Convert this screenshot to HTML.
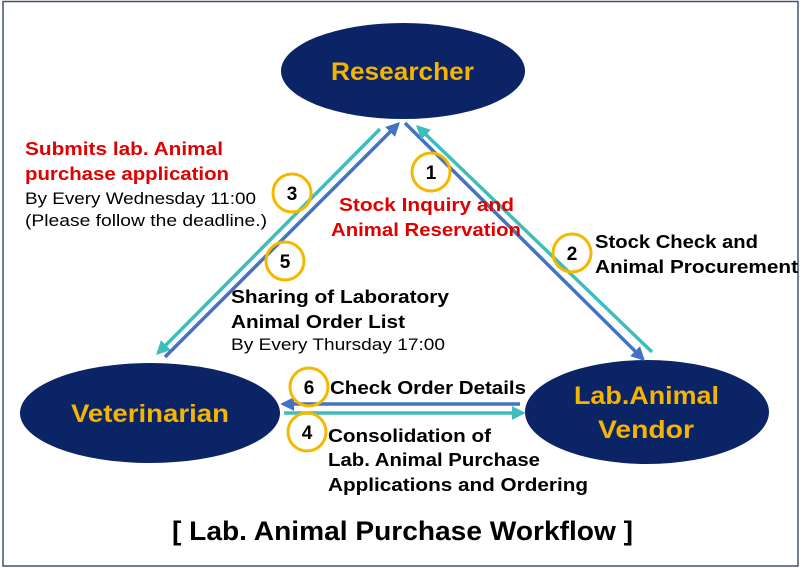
<!DOCTYPE html>
<html><head><meta charset="utf-8"><style>
html,body{margin:0;padding:0;background:#fff;}
svg{display:block;font-family:"Liberation Sans","Noto Sans CJK KR",sans-serif;}
</style></head><body>
<svg width="803" height="568" viewBox="0 0 803 568" xmlns="http://www.w3.org/2000/svg">
<defs>
<marker id="ab" viewBox="0 0 10 10" refX="8" refY="5" markerWidth="4" markerHeight="4" orient="auto"><path d="M0,0L10,5L0,10z" fill="#4472c4"/></marker>
<marker id="at" viewBox="0 0 10 10" refX="8" refY="5" markerWidth="4" markerHeight="4" orient="auto"><path d="M0,0L10,5L0,10z" fill="#3ebdbd"/></marker>
</defs>
<rect x="3" y="1.5" width="795" height="564.5" fill="#fff" stroke="#44546a" stroke-width="1.5"/>
<ellipse cx="403" cy="71" rx="122" ry="48" fill="#0b2466"/>
<ellipse cx="150" cy="413" rx="130" ry="50" fill="#0b2466"/>
<ellipse cx="647" cy="412" rx="122" ry="52" fill="#0b2466"/>
<g font-weight="bold" fill="#f5b400" font-size="25" lengthAdjust="spacingAndGlyphs">
<text x="331" y="80" textLength="143" lengthAdjust="spacingAndGlyphs">Researcher</text>
<text x="71" y="422" textLength="158" lengthAdjust="spacingAndGlyphs">Veterinarian</text>
<text x="574" y="404" textLength="145" lengthAdjust="spacingAndGlyphs">Lab.Animal</text>
<text x="598" y="438" textLength="96" lengthAdjust="spacingAndGlyphs">Vendor</text>
</g>
<g stroke-width="3.5" fill="none">
<line x1="380" y1="129" x2="158" y2="353" stroke="#3ebdbd" marker-end="url(#at)"/>
<line x1="165" y1="357" x2="398" y2="124" stroke="#4472c4" marker-end="url(#ab)"/>
<line x1="405" y1="123" x2="643" y2="359" stroke="#4472c4" marker-end="url(#ab)"/>
<line x1="652" y1="352" x2="418" y2="127" stroke="#3ebdbd" marker-end="url(#at)"/>
<line x1="520" y1="404" x2="283" y2="404" stroke="#4472c4" marker-end="url(#ab)"/>
<line x1="284" y1="413" x2="523" y2="413" stroke="#3ebdbd" marker-end="url(#at)"/>
</g>
<g fill="none" stroke="#f5b800" stroke-width="3">
<circle cx="431" cy="172" r="19"/><circle cx="572" cy="253" r="19"/>
<circle cx="292" cy="193" r="19"/><circle cx="285" cy="261" r="19"/>
<circle cx="309" cy="387" r="19"/><circle cx="307" cy="432" r="19"/>
</g>
<g font-weight="bold" font-size="19" text-anchor="middle" fill="#000">
<text x="431" y="179">1</text><text x="572" y="260">2</text>
<text x="292" y="200">3</text><text x="285" y="268">5</text>
<text x="309" y="394">6</text><text x="307" y="439">4</text>
</g>
<g font-weight="bold" font-size="18.5" fill="#e00000">
<text x="25" y="155" textLength="198" lengthAdjust="spacingAndGlyphs">Submits lab. Animal</text>
<text x="25" y="180" textLength="204" lengthAdjust="spacingAndGlyphs">purchase application</text>
<text x="339" y="211" textLength="175" lengthAdjust="spacingAndGlyphs">Stock Inquiry and</text>
<text x="331" y="236" textLength="190" lengthAdjust="spacingAndGlyphs">Animal Reservation</text>
</g>
<g font-size="16.5" fill="#000">
<text x="25" y="204" textLength="231" lengthAdjust="spacingAndGlyphs">By Every Wednesday 11:00</text>
<text x="25" y="226" textLength="242" lengthAdjust="spacingAndGlyphs">(Please follow the deadline.)</text>
<text x="231" y="350" textLength="214" lengthAdjust="spacingAndGlyphs">By Every Thursday 17:00</text>
</g>
<g font-weight="bold" font-size="18" fill="#000">
<text x="595" y="248" textLength="163" lengthAdjust="spacingAndGlyphs">Stock Check and</text>
<text x="595" y="273" textLength="203" lengthAdjust="spacingAndGlyphs">Animal Procurement</text>
<text x="231" y="303" textLength="218" lengthAdjust="spacingAndGlyphs">Sharing of Laboratory</text>
<text x="231" y="328" textLength="174" lengthAdjust="spacingAndGlyphs">Animal Order List</text>
<text x="330" y="394" textLength="196" lengthAdjust="spacingAndGlyphs">Check Order Details</text>
<text x="328" y="442" textLength="163" lengthAdjust="spacingAndGlyphs">Consolidation of</text>
<text x="328" y="466" textLength="212" lengthAdjust="spacingAndGlyphs">Lab. Animal Purchase</text>
<text x="328" y="491" textLength="260" lengthAdjust="spacingAndGlyphs">Applications and Ordering</text>
</g>
<text x="172" y="540" font-size="27" font-weight="bold" textLength="461" lengthAdjust="spacingAndGlyphs" fill="#000">[ Lab. Animal Purchase Workflow ]</text>
</svg>
</body></html>
